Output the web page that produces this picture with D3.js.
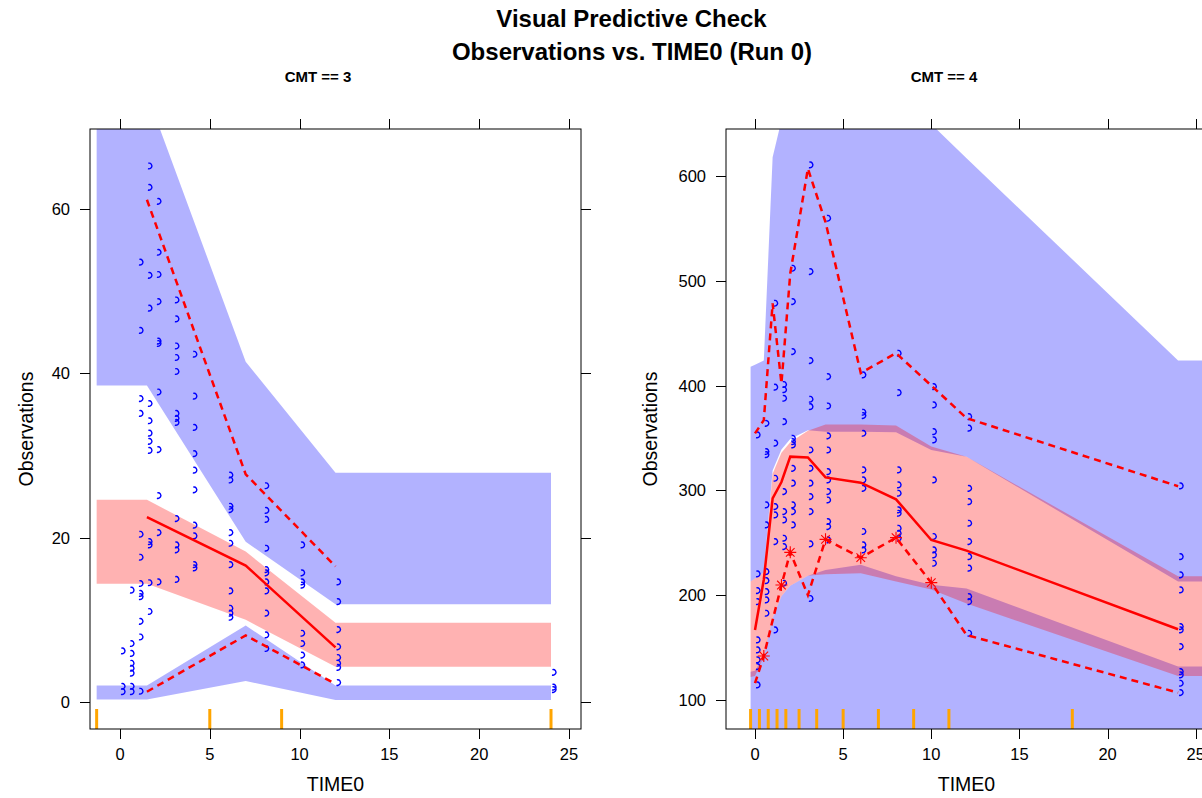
<!DOCTYPE html>
<html><head><meta charset="utf-8">
<script src="https://cdn.jsdelivr.net/npm/d3@7"></script>
<style>
body{margin:0;background:#fff;}
svg{display:block;}
text{font-family:"Liberation Sans",Arial,Helvetica,sans-serif;fill:#000;}
</style>
</head><body>
<svg id="chart" width="1202" height="798"></svg>
<script>
// ---------------- DATA ----------------
const titleLines = ["Visual Predictive Check", "Observations vs. TIME0 (Run 0)"];
const stripLabels = ["CMT == 3", "CMT == 4"];
const xLabel = "TIME0";
const yLabel = "Observations";

const xTicks = [0, 5, 10, 15, 20, 25];
const p1YTicks = [0, 20, 40, 60];
const p2YTicks = [100, 200, 300, 400, 500, 600];

// Panel 1 (CMT == 3): prediction intervals at bin positions
const p1BandX    = [-1.3, 1.5, 7, 12, 24];
const p1HiUpper  = [74, 74, 41.4, 27.9, 27.9];
const p1HiLower  = [38.5, 38.5, 19.5, 11.9, 11.9];
const p1MidUpper = [24.6, 24.6, 18.3, 9.65, 9.65];
const p1MidLower = [14.4, 14.4, 10.0, 4.3, 4.3];
const p1LoUpper  = [2.0, 2.0, 9.3, 2.0, 2.0];
const p1LoLower  = [0.3, 0.3, 2.55, 0.25, 0.25];
const p1LineX    = [1.5, 7, 12];
const p1Median   = [22.5, 16.6, 6.65];
const p1P95      = [61.1, 27.7, 16.5];
const p1P5       = [1.25, 8.1, 2.2];
const p1Stars    = [];
const p1Rug      = [-1.3, 5, 9, 24];
const p1ObsTimes = [0, 0.5, 1, 1.5, 2, 3, 4, 6, 8, 10, 12, 24];
const p1ObsValues = [
  [6.2, 1.9, 1.25],
  [13.6, 7.1, 5.9, 4.7, 4.1, 3.5, 1.9, 1.25],
  [53.5, 45.2, 36.9, 35.1, 20.4, 17.6, 14.4, 13.2, 12.8, 9.8, 7.9, 1.3],
  [65.2, 62.6, 51.9, 47.9, 36.3, 34.2, 32.7, 31.7, 30.6, 19.5, 19.1, 14.5, 11.0],
  [60.9, 54.7, 52.0, 48.7, 43.9, 43.6, 37.7, 30.7, 25.1, 20.6, 14.6],
  [48.9, 46.6, 43.3, 41.9, 40.2, 35.1, 34.5, 34.0, 22.3, 19.1, 18.5, 14.9],
  [42.3, 37.2, 33.4, 30.2, 28.2, 25.8, 21.5, 20.2, 16.7, 16.3],
  [27.6, 27.0, 23.8, 23.4, 20.6, 19.3, 16.7, 13.5, 11.4, 10.8, 10.3],
  [26.3, 23.3, 22.2, 18.7, 16.1, 15.7, 14.6, 13.5, 10.8, 8.15, 6.5],
  [19.1, 15.7, 14.6, 14.2, 8.35, 7.1, 5.7, 4.5],
  [14.6, 12.2, 8.8, 6.7, 5.4, 4.7, 4.2, 2.35],
  [3.6, 1.8, 1.5]
];

// Panel 2 (CMT == 4)
const p2BandX    = [-0.25, 0, 0.5, 1, 1.5, 2, 3, 4, 6, 8, 10, 12, 24, 27];
const p2HiUpper  = [418, 420, 424, 618, 653, 700, 720, 720, 720, 700, 649.5, 617, 424, 424];
const p2HiLower  = [213, 216, 222, 319, 339, 349, 357.5, 356, 356, 355.5, 338.5, 332, 213, 213];
const p2MidUpper = [213, 216, 222, 316, 336, 346, 357, 363, 363, 362, 342, 332, 218, 218];
const p2MidLower = [122, 123, 141, 178, 199, 209, 218.5, 220, 221, 213, 205.5, 192, 123, 123];
const p2LoUpper  = [127, 128, 142, 178, 199, 209, 218.5, 224, 229, 218, 210, 206.5, 132, 132];
const p2LoLower  = [40, 40, 40, 40, 40, 40, 40, 40, 40, 40, 40, 40, 40, 40];
const p2LineX    = [0, 0.5, 1, 1.5, 2, 3, 4, 6, 8, 10, 12, 24];
const p2Median   = [166.8, 215, 292.4, 308, 332.2, 331.5, 312.4, 307.4, 291.5, 252.7, 242.5, 167.5];
const p2P95      = [354.4, 367, 478.5, 402, 507, 607, 556, 412, 431, 400, 369, 304];
const p2P5       = [116, 142, 176, 209.7, 240.9, 200, 253.3, 235.8, 254.9, 212, 162, 107];
const p2Stars    = [0.5, 1.5, 2, 4, 6, 8, 10];
const p2Rug      = [-0.25, 0.25, 0.75, 1.25, 1.75, 2.5, 3.5, 5, 7, 9, 11, 18];
const p2ObsTimes = [0, 0.5, 1, 1.5, 2, 3, 4, 6, 8, 10, 12, 24];
const p2ObsValues = [
  [352.9, 220.2, 204.3, 193.8, 157.3, 147.7, 138.2, 131.8, 114.3],
  [363.9, 337, 334, 286.1, 267, 222.4, 213.8, 203.3, 195.4, 182.7],
  [478.5, 398.4, 345, 311.5, 284.5, 276.5, 251.1, 166.8],
  [401, 396, 387.8, 365.5, 298.8, 279.7, 271.8, 254.3, 246.3, 211.3],
  [511.9, 480.1, 432.4, 349.7, 346.4, 343.3, 321, 306.8, 286.1, 279.7, 267],
  [610.5, 508.7, 423.8, 386.9, 379.8, 338.5, 321, 306.8, 294, 279.7, 248.9, 196.8],
  [559.6, 408.5, 380.5, 352, 338.5, 317.8, 309.9, 298.8, 290.8, 270.2, 265.4, 252.7],
  [410.1, 374.5, 371.3, 354.4, 319.5, 309.9, 301.9, 260.7, 247.9, 243.1],
  [430.8, 393.2, 319.5, 305.2, 297.2, 281.3, 278.1, 263.8, 259, 254.3],
  [399, 381.5, 356, 348.1, 309.9, 255.9, 243.1, 238.4, 230.4],
  [370.3, 359.3, 301.9, 289.2, 268.6, 251.1, 236.7, 225.7, 198.6, 193.8, 163.6],
  [304.2, 236.7, 219.3, 205, 170, 166.8, 150.9, 127, 123.9, 115.9, 107]
];

// ---------------- DRAW ----------------
const svg = d3.select("#chart");
svg.append("rect").attr("width", 1202).attr("height", 798).attr("fill", "#fff");

svg.append("text").attr("x", 631.5).attr("y", 26.5).attr("text-anchor", "middle")
  .attr("font-size", 24).attr("font-weight", "bold").text(titleLines[0]);
svg.append("text").attr("x", 632).attr("y", 60).attr("text-anchor", "middle")
  .attr("font-size", 24).attr("font-weight", "bold").text(titleLines[1]);

const panels = [
  { left: 90, right: 581, top: 129, bottom: 729, xDom: [-1.67, 25.67], yDom: [-3.285, 69.71],
    yTicks: p1YTicks, stripX: 318, ylabX: 33,
    bandX: p1BandX, hiU: p1HiUpper, hiL: p1HiLower, midU: p1MidUpper, midL: p1MidLower, loU: p1LoUpper, loL: p1LoLower,
    lineX: p1LineX, med: p1Median, p95: p1P95, p5: p1P5, stars: p1Stars, rug: p1Rug,
    obsT: p1ObsTimes, obsV: p1ObsValues, label: stripLabels[0] },
  { left: 726, right: 1207, top: 129, bottom: 729, xDom: [-1.645, 25.64], yDom: [72.33, 644.85],
    yTicks: p2YTicks, stripX: 944, ylabX: 657,
    bandX: p2BandX, hiU: p2HiUpper, hiL: p2HiLower, midU: p2MidUpper, midL: p2MidLower, loU: p2LoUpper, loL: p2LoLower,
    lineX: p2LineX, med: p2Median, p95: p2P95, p5: p2P5, stars: p2Stars, rug: p2Rug,
    obsT: p2ObsTimes, obsV: p2ObsValues, label: stripLabels[1] }
];

const blueFill = "rgba(0,0,255,0.3)";
const redFill = "rgba(255,0,0,0.3)";

panels.forEach((p, i) => {
  const x = d3.scaleLinear().domain(p.xDom).range([p.left, p.right]);
  const y = d3.scaleLinear().domain(p.yDom).range([p.bottom, p.top]);
  const clipId = "clip" + i;
  svg.append("clipPath").attr("id", clipId).append("rect")
    .attr("x", p.left).attr("y", p.top).attr("width", p.right - p.left).attr("height", p.bottom - p.top);
  const g = svg.append("g").attr("clip-path", `url(#${clipId})`);

  const band = (up, lo) => p.bandX.map((t, k) => ({ t, hi: up[k], lo: lo[k] }));
  const area = d3.area().x(d => x(d.t)).y0(d => y(d.lo)).y1(d => y(d.hi));
  g.append("path").attr("d", area(band(p.hiU, p.hiL))).attr("fill", blueFill);
  g.append("path").attr("d", area(band(p.loU, p.loL))).attr("fill", blueFill);
  g.append("path").attr("d", area(band(p.midU, p.midL))).attr("fill", redFill);

  // rug
  g.selectAll("line.rug").data(p.rug).enter().append("line")
    .attr("x1", d => x(d)).attr("x2", d => x(d))
    .attr("y1", p.bottom).attr("y2", p.bottom - 20)
    .attr("stroke", "#FFA500").attr("stroke-width", 3);

  // observations
  const obs = [];
  p.obsT.forEach((t, k) => p.obsV[k].forEach(v => obs.push({ t, v })));
  g.selectAll("path.obs").data(obs).enter().append("path")
    .attr("transform", d => `translate(${x(d.t) + 3},${y(d.v)})`)
    .attr("d", "M-1.6,-2.8 C1.0,-3.6 2.8,-0.6 1.6,1.3 C0.8,2.6 -0.6,3.0 -2.0,2.6")
    .attr("fill", "none").attr("stroke", "#0000FF").attr("stroke-width", 1.4);

  // lines
  const line = d3.line().x(d => x(d.t)).y(d => y(d.v));
  const pts = arr => p.lineX.map((t, k) => ({ t, v: arr[k] }));
  g.append("path").attr("d", line(pts(p.p95))).attr("fill", "none")
    .attr("stroke", "#FF0000").attr("stroke-width", 2.5).attr("stroke-dasharray", "7,5");
  g.append("path").attr("d", line(pts(p.p5))).attr("fill", "none")
    .attr("stroke", "#FF0000").attr("stroke-width", 2.5).attr("stroke-dasharray", "7,5");
  g.append("path").attr("d", line(pts(p.med))).attr("fill", "none")
    .attr("stroke", "#FF0000").attr("stroke-width", 2.5);

  // stars (observed percentile outside PI)
  const starPts = p.stars.map(t => ({ t, v: p.p5[p.lineX.indexOf(t)] }));
  const sg = g.selectAll("g.star").data(starPts).enter().append("g")
    .attr("transform", d => `translate(${x(d.t)},${y(d.v)})`);
  sg.append("path").attr("d", "M-6,0H6M0,-6V6M-4.3,-4.3L4.3,4.3M-4.3,4.3L4.3,-4.3")
    .attr("stroke", "#FF0000").attr("stroke-width", 1.1).attr("fill", "none");

  // frame
  const axg = svg.append("g");
  axg.append("rect").attr("x", p.left).attr("y", p.top).attr("width", p.right - p.left).attr("height", p.bottom - p.top)
    .attr("fill", "none").attr("stroke", "#000").attr("stroke-width", 1);
  xTicks.forEach(t => {
    const xx = Math.round(x(t)) + 0.5;
    axg.append("line").attr("x1", xx).attr("x2", xx).attr("y1", p.bottom).attr("y2", p.bottom + 10).attr("stroke", "#000");
    axg.append("line").attr("x1", xx).attr("x2", xx).attr("y1", p.top).attr("y2", p.top - 10).attr("stroke", "#000");
    axg.append("text").attr("x", x(t)).attr("y", 760).attr("text-anchor", "middle").attr("font-size", 16.5).text(t);
  });
  p.yTicks.forEach(v => {
    const yy = Math.round(y(v)) + 0.5;
    axg.append("line").attr("x1", p.left - 10).attr("x2", p.left).attr("y1", yy).attr("y2", yy).attr("stroke", "#000");
    axg.append("line").attr("x1", p.right).attr("x2", p.right + 10).attr("y1", yy).attr("y2", yy).attr("stroke", "#000");
    axg.append("text").attr("x", p.left - 20).attr("y", y(v) + 6).attr("text-anchor", "end").attr("font-size", 16.5).text(v);
  });
  axg.append("text").attr("x", p.stripX).attr("y", 82).attr("text-anchor", "middle")
    .attr("font-size", 15).attr("font-weight", "bold").text(p.label);
  axg.append("text").attr("x", (p.left + p.right) / 2).attr("y", 791).attr("text-anchor", "middle")
    .attr("font-size", 19.5).text(xLabel);
  axg.append("text").attr("transform", `translate(${p.ylabX},${(p.top + p.bottom) / 2}) rotate(-90)`)
    .attr("text-anchor", "middle").attr("font-size", 19.5).text(yLabel);
});
</script>
</body></html>
